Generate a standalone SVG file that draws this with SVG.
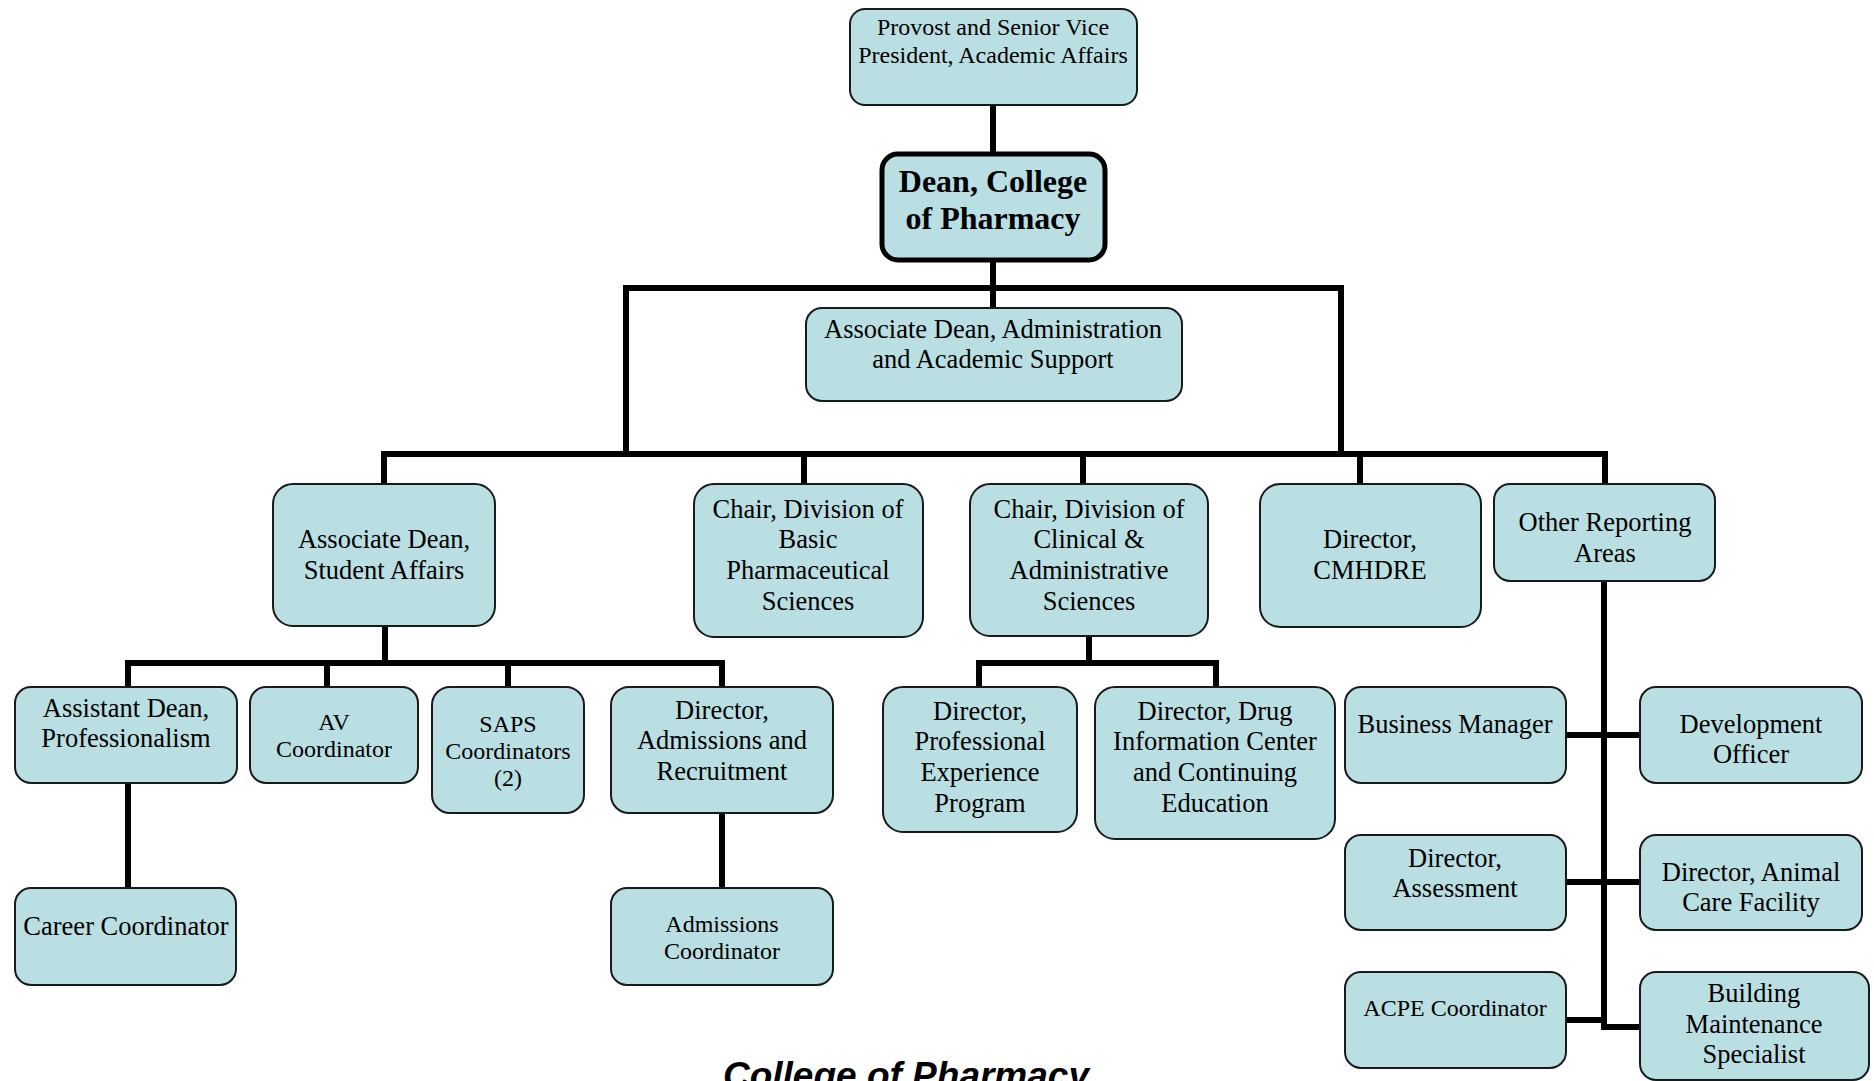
<svg xmlns="http://www.w3.org/2000/svg" width="1874" height="1081" viewBox="0 0 1874 1081">
<style>
.box{fill:#B9DFE3;stroke:#1a1a1a;stroke-width:2}
.dean{fill:#B9DFE3;stroke:#000;stroke-width:5}
.t{font-family:"Liberation Serif","Times New Roman",serif;font-size:26.5px;text-anchor:middle;fill:#000}
.s{font-size:24px}
.b{font-weight:bold;font-size:32px}
.title{font-family:"Liberation Sans",Arial,sans-serif;font-weight:bold;font-style:italic;font-size:37px;text-anchor:middle;fill:#000}
.c{fill:none;stroke:#000;stroke-width:6;stroke-linecap:square;stroke-linejoin:miter}
</style>
<rect width="1874" height="1081" fill="#fff"/>
<g id="connectors">
<path class="c" d="M993,105 V153"/>
<path class="c" d="M993,261 V308"/>
<path class="c" d="M626,453 V288 H1341 V453"/>
<path class="c" d="M384,454 H1605"/>
<path class="c" d="M384,454 V484 M804,454 V484 M1083,454 V484 M1360,454 V484 M1605,454 V484"/>
<path class="c" d="M385,626 V663"/>
<path class="c" d="M128,686 V663 H722 V686 M327,663 V686 M508,663 V686"/>
<path class="c" d="M128,783 V888"/>
<path class="c" d="M722,813 V888"/>
<path class="c" d="M1089,636 V663"/>
<path class="c" d="M979,686 V663 H1216 V686"/>
<path class="c" d="M1604,581 V1027 H1640"/>
<path class="c" d="M1566,735 H1640"/>
<path class="c" d="M1566,882 H1640"/>
<path class="c" d="M1566,1020 H1604"/>
</g>
<g id="provost">
<rect class="box" x="850" y="9" width="287" height="96" rx="15"/>
<text class="t s" x="993" y="35">Provost and Senior Vice</text>
<text class="t s" x="993" y="63">President, Academic Affairs</text>
</g>
<g id="dean">
<rect class="dean" x="882" y="154" width="223" height="106" rx="16"/>
<text class="t b" x="993" y="192">Dean, College</text>
<text class="t b" x="993" y="229">of Pharmacy</text>
</g>
<g id="assoc-dean-admin">
<rect class="box" x="806" y="308" width="376" height="93" rx="16"/>
<text class="t" x="993" y="338">Associate Dean, Administration</text>
<text class="t" x="993" y="368">and Academic Support</text>
</g>
<g id="assoc-dean-student">
<rect class="box" x="273" y="484" width="222" height="142" rx="20"/>
<text class="t" x="384" y="548">Associate Dean,</text>
<text class="t" x="384" y="579">Student Affairs</text>
</g>
<g id="chair-basic">
<rect class="box" x="694" y="484" width="229" height="153" rx="20"/>
<text class="t" x="808" y="518">Chair, Division of</text>
<text class="t" x="808" y="548">Basic</text>
<text class="t" x="808" y="579">Pharmaceutical</text>
<text class="t" x="808" y="610">Sciences</text>
</g>
<g id="chair-clinical">
<rect class="box" x="970" y="484" width="238" height="152" rx="20"/>
<text class="t" x="1089" y="518">Chair, Division of</text>
<text class="t" x="1089" y="548">Clinical &amp;</text>
<text class="t" x="1089" y="579">Administrative</text>
<text class="t" x="1089" y="610">Sciences</text>
</g>
<g id="director-cmhdre">
<rect class="box" x="1260" y="484" width="221" height="143" rx="20"/>
<text class="t" x="1370" y="548">Director,</text>
<text class="t" x="1370" y="579">CMHDRE</text>
</g>
<g id="other-reporting">
<rect class="box" x="1494" y="484" width="221" height="97" rx="16"/>
<text class="t" x="1605" y="531">Other Reporting</text>
<text class="t" x="1605" y="562">Areas</text>
</g>
<g id="assistant-dean">
<rect class="box" x="15" y="687" width="222" height="96" rx="16"/>
<text class="t" x="126" y="717">Assistant Dean,</text>
<text class="t" x="126" y="747">Professionalism</text>
</g>
<g id="av-coordinator">
<rect class="box" x="250" y="687" width="168" height="96" rx="16"/>
<text class="t s" x="334" y="730">AV</text>
<text class="t s" x="334" y="757">Coordinator</text>
</g>
<g id="saps-coordinators">
<rect class="box" x="432" y="687" width="152" height="126" rx="18"/>
<text class="t s" x="508" y="732">SAPS</text>
<text class="t s" x="508" y="759">Coordinators</text>
<text class="t s" x="508" y="786">(2)</text>
</g>
<g id="director-admissions">
<rect class="box" x="611" y="687" width="222" height="126" rx="18"/>
<text class="t" x="722" y="719">Director,</text>
<text class="t" x="722" y="749">Admissions and</text>
<text class="t" x="722" y="780">Recruitment</text>
</g>
<g id="career-coordinator">
<rect class="box" x="15" y="888" width="221" height="97" rx="16"/>
<text class="t" x="126" y="935">Career Coordinator</text>
</g>
<g id="admissions-coordinator">
<rect class="box" x="611" y="888" width="222" height="97" rx="16"/>
<text class="t s" x="722" y="932">Admissions</text>
<text class="t s" x="722" y="959">Coordinator</text>
</g>
<g id="director-pep">
<rect class="box" x="883" y="687" width="194" height="145" rx="20"/>
<text class="t" x="980" y="720">Director,</text>
<text class="t" x="980" y="750">Professional</text>
<text class="t" x="980" y="781">Experience</text>
<text class="t" x="980" y="812">Program</text>
</g>
<g id="director-drug-info">
<rect class="box" x="1095" y="687" width="240" height="152" rx="20"/>
<text class="t" x="1215" y="720">Director, Drug</text>
<text class="t" x="1215" y="750">Information Center</text>
<text class="t" x="1215" y="781">and Continuing</text>
<text class="t" x="1215" y="812">Education</text>
</g>
<g id="business-manager">
<rect class="box" x="1345" y="687" width="221" height="96" rx="16"/>
<text class="t" x="1455" y="733">Business Manager</text>
</g>
<g id="development-officer">
<rect class="box" x="1640" y="687" width="222" height="96" rx="16"/>
<text class="t" x="1751" y="733">Development</text>
<text class="t" x="1751" y="763">Officer</text>
</g>
<g id="director-assessment">
<rect class="box" x="1345" y="835" width="221" height="95" rx="16"/>
<text class="t" x="1455" y="867">Director,</text>
<text class="t" x="1455" y="897">Assessment</text>
</g>
<g id="director-animal-care">
<rect class="box" x="1640" y="835" width="222" height="95" rx="16"/>
<text class="t" x="1751" y="881">Director, Animal</text>
<text class="t" x="1751" y="911">Care Facility</text>
</g>
<g id="acpe-coordinator">
<rect class="box" x="1345" y="972" width="221" height="96" rx="16"/>
<text class="t s" x="1455" y="1016">ACPE Coordinator</text>
</g>
<g id="building-maintenance">
<rect class="box" x="1640" y="972" width="229" height="108" rx="16"/>
<text class="t" x="1754" y="1002">Building</text>
<text class="t" x="1754" y="1033">Maintenance</text>
<text class="t" x="1754" y="1063">Specialist</text>
</g>
<text class="title" x="906" y="1088">College of Pharmacy</text>
</svg>
